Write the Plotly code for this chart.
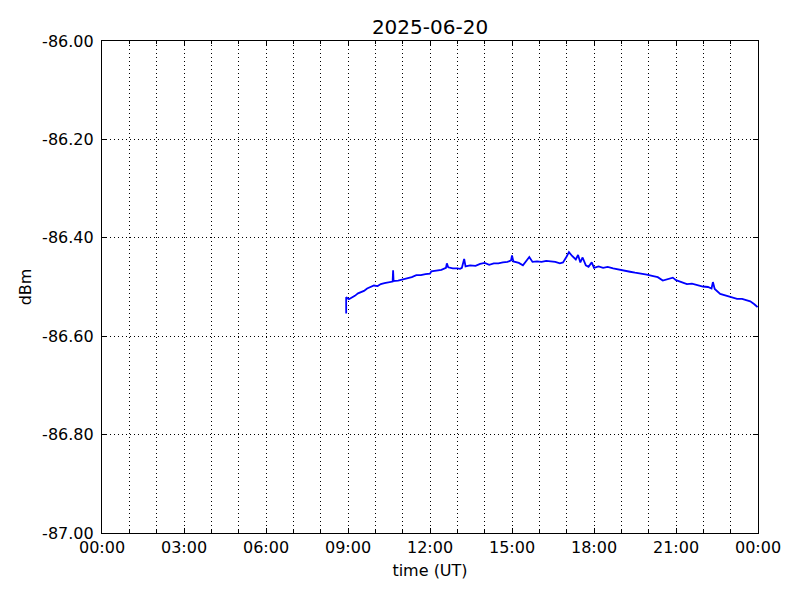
import plotly.graph_objects as go

day = "2025-06-20"
times = ["08:56", "08:56", "09:02", "09:08", "09:15", "09:22", "09:28", "09:35", "09:42", "09:50",
         "09:57", "10:05", "10:12", "10:20", "10:30", "10:38", "10:39", "10:40", "10:50", "11:00",
         "11:10", "11:20", "11:30", "11:40", "11:50", "12:00", "12:03", "12:15", "12:25", "12:35",
         "12:37", "12:40", "12:50", "13:00", "13:06", "13:10", "13:15", "13:18", "13:28", "13:40",
         "13:50", "14:00", "14:10", "14:20", "14:30", "14:40", "14:50", "14:58", "15:00", "15:03",
         "15:15", "15:24", "15:32", "15:38", "15:45", "15:55", "16:05", "16:15", "16:25", "16:35",
         "16:45", "16:52", "17:00", "17:05", "17:12", "17:20", "17:25", "17:30", "17:35", "17:42",
         "17:48", "17:55", "18:00", "18:10", "18:20", "18:30", "18:42", "18:55", "19:05", "19:19",
         "19:30", "19:45", "19:56", "20:10", "20:20", "20:31", "20:40", "20:53", "21:00", "21:10",
         "21:24", "21:35", "21:45", "21:59", "22:10", "22:18", "22:21", "22:25", "22:37", "22:50",
         "23:02", "23:14", "23:25", "23:35", "23:43", "23:52", "23:59"]
dbm = [-86.554, -86.521, -86.525, -86.522, -86.518, -86.513, -86.511, -86.508, -86.503, -86.500,
       -86.497, -86.498, -86.494, -86.492, -86.490, -86.489, -86.466, -86.488, -86.487, -86.485,
       -86.483, -86.480, -86.476, -86.476, -86.474, -86.473, -86.468, -86.467, -86.465, -86.461,
       -86.452, -86.460, -86.462, -86.462, -86.463, -86.461, -86.443, -86.458, -86.456, -86.457,
       -86.453, -86.451, -86.455, -86.452, -86.452, -86.450, -86.449, -86.446, -86.436, -86.448,
       -86.451, -86.456, -86.446, -86.439, -86.449, -86.448, -86.449, -86.447, -86.448, -86.449,
       -86.452, -86.450, -86.438, -86.429, -86.437, -86.444, -86.435, -86.450, -86.440, -86.456,
       -86.459, -86.450, -86.461, -86.458, -86.461, -86.459, -86.462, -86.465, -86.466, -86.469,
       -86.471, -86.473, -86.475, -86.478, -86.480, -86.487, -86.485, -86.481, -86.486, -86.490,
       -86.494, -86.493, -86.496, -86.499, -86.500, -86.503, -86.490, -86.504, -86.514, -86.518,
       -86.521, -86.524, -86.524, -86.527, -86.529, -86.535, -86.541]
y_ticks = [-86.0, -86.2, -86.4, -86.6, -86.8, -87.0]

x = [f"{day} {t}" for t in times]

fig = go.Figure()
fig.add_trace(go.Scatter(x=x, y=dbm, mode="lines",
                         line=dict(color="#0000ff", width=1.8), showlegend=False))

font = dict(family="DejaVu Sans", size=16, color="black")
grid_dash = "1px,3px"
fig.update_layout(
    width=800, height=600,
    paper_bgcolor="white", plot_bgcolor="white",
    margin=dict(l=94, r=50, t=33, b=75),
    font=font,
    title=dict(text=day, x=0.5, xref="paper", y=1 - 19 / 600, yanchor="middle",
               font=dict(family="DejaVu Sans", size=20, color="black")),
)
fig.update_xaxes(
    type="date", range=[f"{day} 00:00", "2025-06-21 00:00"],
    dtick=3 * 3600 * 1000, tick0=f"{day} 00:00", tickformat="%H:%M",
    ticks="inside", ticklen=5, tickcolor="black",
    showline=True, linecolor="black", linewidth=1.2, mirror="ticks",
    showgrid=True, gridcolor="black", gridwidth=1, griddash=grid_dash,
    minor=dict(dtick=3600 * 1000, tick0=f"{day} 00:00", showgrid=True, gridcolor="black",
               gridwidth=1, griddash=grid_dash, ticks="inside", ticklen=3, tickcolor="black"),
    zeroline=False,
    title=dict(text="time (UT)", standoff=8, font=font),
    tickfont=font,
)
fig.update_yaxes(
    range=[-87.0, -86.0], tickvals=y_ticks, ticktext=[f"{v:.2f}" for v in y_ticks],
    ticks="inside", ticklen=5, tickcolor="black",
    showline=True, linecolor="black", linewidth=1.2, mirror="ticks",
    showgrid=True, gridcolor="black", gridwidth=1, griddash=grid_dash,
    zeroline=False, ticklabelstandoff=4,
    title=dict(text="dBm", standoff=6, font=font),
    tickfont=font,
)
fig.write_html("out.html")
